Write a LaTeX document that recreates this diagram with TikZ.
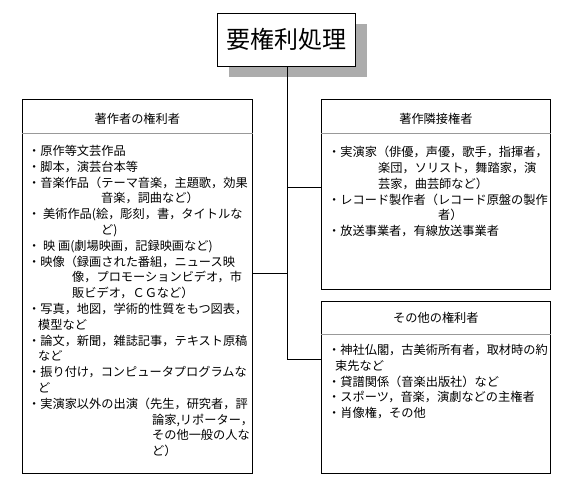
\documentclass[tikz,border=0pt]{standalone}
\usepackage{fontspec}
\setmainfont{Noto Sans CJK JP}
\usepackage{tikz}
\usetikzlibrary{positioning, shadows}

\begin{document}
\begin{tikzpicture}[x=1pt, y=-1pt,
    every node/.style={font=\fontsize{12.2}{15.8}\selectfont, inner sep=0pt},
    titlebox/.style={rectangle, draw, line width=0.8pt, fill=white, minimum width=138pt, minimum height=53pt, font=\fontsize{24}{28}\selectfont, drop shadow={shadow xshift=12pt, shadow yshift=-11pt, fill=gray!65, opacity=1}},
    holderbox/.style={rectangle, draw, line width=0.8pt, anchor=north west, minimum width=229pt, minimum height=#1},
    headtext/.style={anchor=north},
    bodytext/.style={anchor=north west, align=left},
    sepline/.style={draw=gray!80, line width=0.6pt},
    link/.style={line width=0.8pt}
]
\useasboundingbox (0,0) rectangle (574,495);

% request box
\node[titlebox] (title) at (286,39.5) {要権利処理};

% holder boxes
\node[holderbox=374pt, minimum width=230pt] (author) at (22,99) {};
\node[holderbox=190pt] (neighbor) at (321,99) {};
\node[holderbox=172pt] (others) at (321,301) {};

\draw[sepline] ([yshift=-34pt]author.north west) -- ([yshift=-34pt]author.north east);
\draw[sepline] ([yshift=-34pt]neighbor.north west) -- ([yshift=-34pt]neighbor.north east);
\draw[sepline] ([yshift=-33pt]others.north west) -- ([yshift=-33pt]others.north east);

\node[headtext, below=13.5pt of author.north] (authorhead) {著作者の権利者};
\node[headtext, below=13.5pt of neighbor.north] (neighborhead) {著作隣接権者};
\node[headtext, below=10.5pt of others.north] (othershead) {その他の権利者};

\node[bodytext, below right=46pt and 6pt of author.north west] (authorlist) {%
・原作等文芸作品\\
・脚本，演芸台本等\\
・音楽作品（テーマ音楽，主題歌，効果\\
\hspace*{73pt}音楽，詞曲など）\\
・ 美術作品(絵，彫刻，書，タイトルな\\
\hspace*{73pt}ど)\\
・ 映 画(劇場映画，記録映画など)\\
・映像（録画された番組，ニュース映\\
\hspace*{44pt}像，プロモーションビデオ，市\\
\hspace*{44pt}販ビデオ，ＣＧなど）\\
・写真，地図，学術的性質をもつ図表，\\
\hspace*{10pt}模型など\\
・論文，新聞，雑誌記事，テキスト原稿\\
\hspace*{10pt}など\\
・振り付け，コンピュータプログラムな\\
\hspace*{10pt}ど\\
・実演家以外の出演（先生，研究者，評\\
\hspace*{124pt}論家,リポーター，\\
\hspace*{124pt}その他一般の人な\\
\hspace*{124pt}ど）};

\node[bodytext, below right=47pt and 7pt of neighbor.north west] (neighborlist) {%
・実演家（俳優，声優，歌手，指揮者，\\
\hspace*{50pt}楽団，ソリスト，舞踏家，演\\
\hspace*{50pt}芸家，曲芸師など）\\
・レコード製作者（レコード原盤の製作\\
\hspace*{110pt}者）\\
・放送事業者，有線放送事業者};

\node[bodytext, below right=43pt and 7pt of others.north west] (otherslist) {%
・神社仏閣，古美術所有者，取材時の約\\
\hspace*{7pt}束先など\\
・貸譜関係（音楽出版社）など\\
・スポーツ，音楽，演劇などの主権者\\
・肖像権，その他};

% tree connectors
\coordinate (jn) at ([yshift=-88pt]neighbor.north west);
\coordinate (ja) at ([yshift=-174pt]author.north east);
\coordinate (jo) at ([yshift=-58pt]others.north west);
\draw[link] ([xshift=1pt]title.south) |- (jo);
\draw[link] ([xshift=1pt]title.south |- jn) -- (jn);
\draw[link] ([xshift=1pt]title.south |- ja) -- (ja);

\end{tikzpicture}
\end{document}
